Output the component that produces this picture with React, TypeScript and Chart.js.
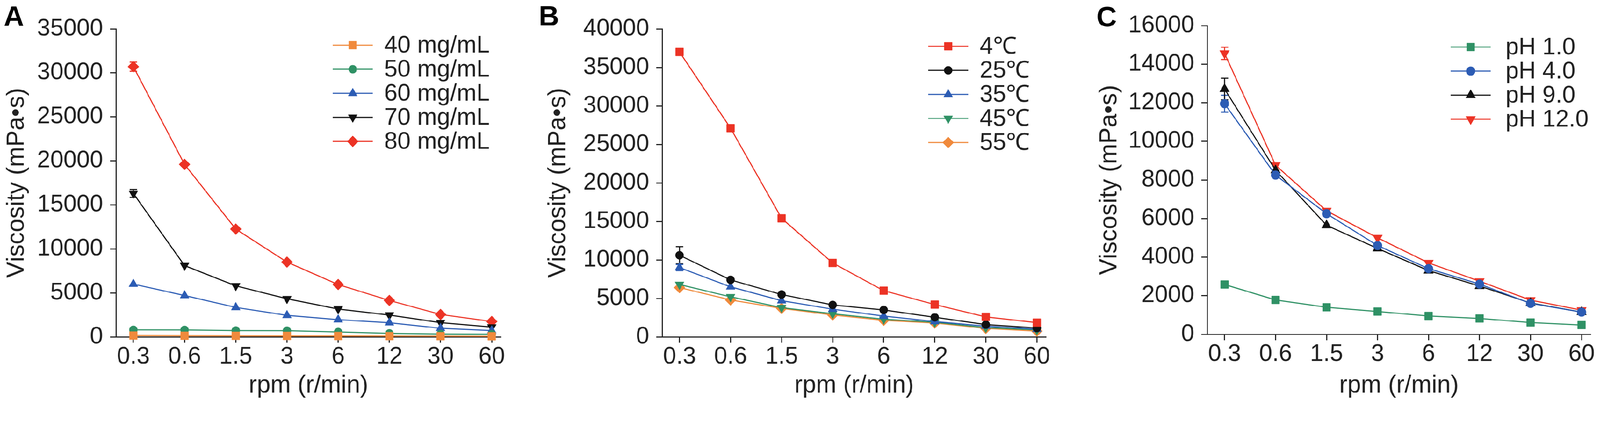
import React, { useEffect, useRef } from 'react';
import { Chart, registerables } from 'chart.js';
import { drawPoint } from 'chart.js/helpers';

Chart.register(...registerables);

const FONT = '"Liberation Sans", Arial, Helvetica, sans-serif';
const INK = '#222222';

// shared x categories
const rpmLabels = ['0.3', '0.6', '1.5', '3', '6', '12', '30', '60'];

// panel A - concentration
const concLabels = ['40 mg/mL', '50 mg/mL', '60 mg/mL', '70 mg/mL', '80 mg/mL'];
const conc40 = [150, 130, 120, 110, 100, 90, 80, 70];
const conc50 = [800, 790, 720, 700, 560, 400, 330, 300];
const conc60 = [6000, 4700, 3350, 2450, 1960, 1610, 980, 720];
const conc70 = [16300, 8100, 5800, 4330, 3170, 2480, 1620, 1110];
const conc80 = [30700, 19600, 12250, 8500, 5950, 4140, 2550, 1750];
const conc70Err = [450, 0, 0, 0, 0, 0, 0, 0];
const conc80Err = [520, 0, 0, 0, 0, 0, 0, 0];

// panel B - temperature
const tempLabels = ['4℃', '25℃', '35℃', '45℃', '55℃'];
const temp4 = [37000, 27100, 15400, 9600, 6000, 4200, 2600, 1850];
const temp25 = [10600, 7400, 5500, 4150, 3500, 2550, 1600, 1150];
const temp35 = [9000, 6500, 4700, 3600, 2700, 2000, 1400, 1000];
const temp45 = [6800, 5200, 3800, 3000, 2300, 1900, 1200, 900];
const temp55 = [6400, 4800, 3700, 2850, 2150, 1800, 1100, 750];
const temp25Err = [1120, 0, 0, 0, 0, 0, 0, 0];
const temp35Err = [400, 0, 0, 0, 0, 0, 0, 0];

// panel C - pH
const phLabels = ['pH 1.0', 'pH 4.0', 'pH 9.0', 'pH 12.0'];
const ph1 = [2580, 1780, 1400, 1180, 950, 820, 610, 480];
const ph4 = [11950, 8250, 6250, 4600, 3400, 2600, 1600, 1150];
const ph9 = [12710, 8500, 5650, 4450, 3300, 2500, 1620, 1150];
const ph12 = [14560, 8760, 6400, 5000, 3700, 2750, 1770, 1250];
const ph4Err = [440, 0, 0, 0, 0, 0, 0, 0];
const ph9Err = [560, 0, 0, 0, 0, 0, 0, 0];
const ph12Err = [320, 0, 0, 0, 0, 0, 0, 0];

const RED = '#ec3325';
const GREEN = '#2f9165';
const BLUE = '#2c5cb4';
const ORANGE = '#f08a3c';
const BLACK = '#111111';

interface Series {
  label: string;
  values: number[];
  errors?: number[];
  color: string;
  pointStyle: string;
  rotation?: number;
  radius: number;
}

interface PanelGeom {
  width: number;
  letter: string;
  letterX: number;
  letterY: number;
  yMax: number;
  yStep: number;
  axisX: number;
  rightPad: number;
  top: number;
  xAxisH: number;
  yTitleCenter: number;
  legendX: number;
  legendTextX: number;
  legendTop: number;
}

const errorBars = {
  id: 'errorBars',
  beforeDatasetsDraw(chart: any) {
    const { ctx } = chart;
    const y = chart.scales.y;
    chart.data.datasets.forEach((ds: any, di: number) => {
      if (!ds.errors) return;
      const meta = chart.getDatasetMeta(di);
      ctx.save();
      ctx.strokeStyle = ds.borderColor;
      ctx.lineWidth = 3;
      ds.data.forEach((pt: any, i: number) => {
        const e = ds.errors[i];
        if (!e) return;
        const px = meta.data[i].x;
        const top = y.getPixelForValue(pt.y + e);
        const bot = y.getPixelForValue(pt.y - e);
        ctx.beginPath();
        ctx.moveTo(px, top);
        ctx.lineTo(px, bot);
        ctx.moveTo(px - 10, top);
        ctx.lineTo(px + 10, top);
        ctx.moveTo(px - 10, bot);
        ctx.lineTo(px + 10, bot);
        ctx.stroke();
      });
      ctx.restore();
    });
  },
};

const lineLegend = {
  id: 'lineLegend',
  afterDraw(chart: any, _args: any, opts: any) {
    const { ctx } = chart;
    ctx.save();
    chart.data.datasets.forEach((ds: any, i: number) => {
      const y = opts.top + i * 65;
      ctx.strokeStyle = ds.borderColor;
      ctx.lineWidth = 3;
      ctx.beginPath();
      ctx.moveTo(opts.x, y);
      ctx.lineTo(opts.x + 108, y);
      ctx.stroke();
      ctx.fillStyle = ds.pointBackgroundColor;
      ctx.lineWidth = 1;
      drawPoint(
        ctx,
        { pointStyle: ds.pointStyle, radius: ds.pointRadius, rotation: ds.pointRotation || 0, borderWidth: 1 } as any,
        opts.x + 54,
        y
      );
      ctx.fillStyle = INK;
      ctx.font = `64px ${FONT}`;
      ctx.textBaseline = 'middle';
      ctx.textAlign = 'left';
      ctx.fillText(ds.label, opts.textX, y + 2);
    });
    ctx.fillStyle = '#000';
    ctx.font = `bold 76px ${FONT}`;
    ctx.textBaseline = 'alphabetic';
    ctx.fillText(opts.letter, opts.letterX, opts.letterY);
    ctx.restore();
  },
};

const ViscosityPanel: React.FC<{ geom: PanelGeom; series: Series[] }> = ({ geom, series }) => {
  const canvasRef = useRef<HTMLCanvasElement>(null);

  useEffect(() => {
    if (!canvasRef.current) return;
    const lh = 66 * 1.2;
    const chart = new Chart(canvasRef.current, {
      type: 'line',
      data: {
        datasets: series.map((s) => ({
          label: s.label,
          data: s.values.map((v, i) => ({ x: i, y: v })),
          errors: s.errors,
          borderColor: s.color,
          backgroundColor: s.color,
          pointBackgroundColor: s.color,
          pointBorderColor: s.color,
          pointBorderWidth: 1,
          pointStyle: s.pointStyle as any,
          pointRotation: s.rotation || 0,
          pointRadius: s.radius,
          borderWidth: 3,
          tension: 0,
          clip: false as any,
        })) as any,
      },
      options: {
        animation: false,
        responsive: false,
        devicePixelRatio: window.devicePixelRatio || 1,
        layout: { padding: { left: 0, top: geom.top, right: geom.rightPad, bottom: 0 } },
        plugins: {
          legend: { display: false },
          tooltip: { enabled: false },
          lineLegend: {
            x: geom.legendX,
            textX: geom.legendTextX,
            top: geom.legendTop,
            letter: geom.letter,
            letterX: geom.letterX,
            letterY: geom.letterY,
          },
        } as any,
        scales: {
          x: {
            type: 'linear',
            min: -0.34,
            max: 7.18,
            afterBuildTicks: (axis: any) => {
              axis.ticks = rpmLabels.map((_, i) => ({ value: i }));
            },
            afterFit: (scale: any) => {
              scale.height = geom.xAxisH;
            },
            ticks: {
              callback: (v: any) => rpmLabels[v] ?? '',
              font: { family: FONT, size: 64 },
              color: INK,
              padding: 0,
              maxRotation: 0,
              autoSkip: false,
            },
            grid: { drawOnChartArea: false, drawTicks: true, tickLength: 16, tickWidth: 3, tickColor: INK },
            border: { display: true, color: INK, width: 3 },
            title: {
              display: true,
              text: 'rpm (r/min)',
              font: { family: FONT, size: 66 },
              color: INK,
              padding: { top: 0, bottom: 1089 - 1042 - lh / 2 },
            },
          },
          y: {
            type: 'linear',
            min: 0,
            max: geom.yMax,
            afterFit: (scale: any) => {
              scale.width = geom.axisX;
            },
            ticks: {
              stepSize: geom.yStep,
              callback: (v: any) => String(v),
              font: { family: FONT, size: 64 },
              color: INK,
              padding: 19,
            },
            grid: { drawOnChartArea: false, drawTicks: true, tickLength: 16, tickWidth: 3, tickColor: INK },
            border: { display: true, color: INK, width: 3 },
            title: {
              display: true,
              text: 'Viscosity (mPa•s)',
              font: { family: FONT, size: 66 },
              color: INK,
              padding: { top: geom.yTitleCenter - lh / 2, bottom: 0 },
            },
          },
        },
      },
      plugins: [errorBars, lineLegend],
    } as any);
    return () => chart.destroy();
  }, [geom, series]);

  return <canvas ref={canvasRef} width={geom.width} height={1089} style={{ display: 'block', width: geom.width, height: 1089 }} />;
};

const seriesA: Series[] = [
  { label: concLabels[0], values: conc40, color: ORANGE, pointStyle: 'rect', radius: 15 },
  { label: concLabels[1], values: conc50, color: GREEN, pointStyle: 'circle', radius: 11 },
  { label: concLabels[2], values: conc60, color: BLUE, pointStyle: 'triangle', radius: 14 },
  { label: concLabels[3], values: conc70, errors: conc70Err, color: BLACK, pointStyle: 'triangle', rotation: 180, radius: 14 },
  { label: concLabels[4], values: conc80, errors: conc80Err, color: RED, pointStyle: 'rectRot', radius: 15 },
];

const seriesB: Series[] = [
  { label: tempLabels[0], values: temp4, color: RED, pointStyle: 'rect', radius: 15 },
  { label: tempLabels[1], values: temp25, errors: temp25Err, color: BLACK, pointStyle: 'circle', radius: 11 },
  { label: tempLabels[2], values: temp35, errors: temp35Err, color: BLUE, pointStyle: 'triangle', radius: 14 },
  { label: tempLabels[3], values: temp45, color: GREEN, pointStyle: 'triangle', rotation: 180, radius: 14 },
  { label: tempLabels[4], values: temp55, color: ORANGE, pointStyle: 'rectRot', radius: 15 },
];

const seriesC: Series[] = [
  { label: phLabels[0], values: ph1, color: GREEN, pointStyle: 'rect', radius: 15 },
  { label: phLabels[1], values: ph4, errors: ph4Err, color: BLUE, pointStyle: 'circle', radius: 12 },
  { label: phLabels[2], values: ph9, errors: ph9Err, color: BLACK, pointStyle: 'triangle', radius: 15 },
  { label: phLabels[3], values: ph12, errors: ph12Err, color: RED, pointStyle: 'triangle', rotation: 180, radius: 15 },
];

const geomA: PanelGeom = {
  width: 1440, letter: 'A', letterX: 10, letterY: 70, yMax: 35000, yStep: 5000,
  axisX: 313, rightPad: 88, top: 78, xAxisH: 179, yTitleCenter: 46,
  legendX: 898, legendTextX: 1037, legendTop: 122,
};
const geomB: PanelGeom = {
  width: 1440, letter: 'B', letterX: 14, letterY: 69, yMax: 40000, yStep: 5000,
  axisX: 347, rightPad: 57, top: 78, xAxisH: 179, yTitleCenter: 67,
  legendX: 1065, legendTextX: 1204, legendTop: 125,
};
const geomC: PanelGeom = {
  width: 1438, letter: 'C', letterX: 79, letterY: 71, yMax: 16000, yStep: 2000,
  axisX: 378, rightPad: 25, top: 69, xAxisH: 186, yTitleCenter: 115,
  legendX: 1035, legendTextX: 1183, legendTop: 127,
};

export default function App() {
  // fit the 4318px-wide figure into whatever CSS viewport the page gets
  const fit = typeof window !== 'undefined' && window.innerWidth ? window.innerWidth / 4318 : 1;
  return (
    <div style={{ position: 'fixed', left: 0, top: 0, width: 4318 * fit, height: 1089 * fit, overflow: 'hidden', background: '#fff' }}>
      <div
        style={{
          width: 4318,
          height: 1089,
          display: 'flex',
          transform: `scale(${fit})`,
          transformOrigin: '0 0',
        }}
      >
        <ViscosityPanel geom={geomA} series={seriesA} />
        <ViscosityPanel geom={geomB} series={seriesB} />
        <ViscosityPanel geom={geomC} series={seriesC} />
      </div>
    </div>
  );
}
